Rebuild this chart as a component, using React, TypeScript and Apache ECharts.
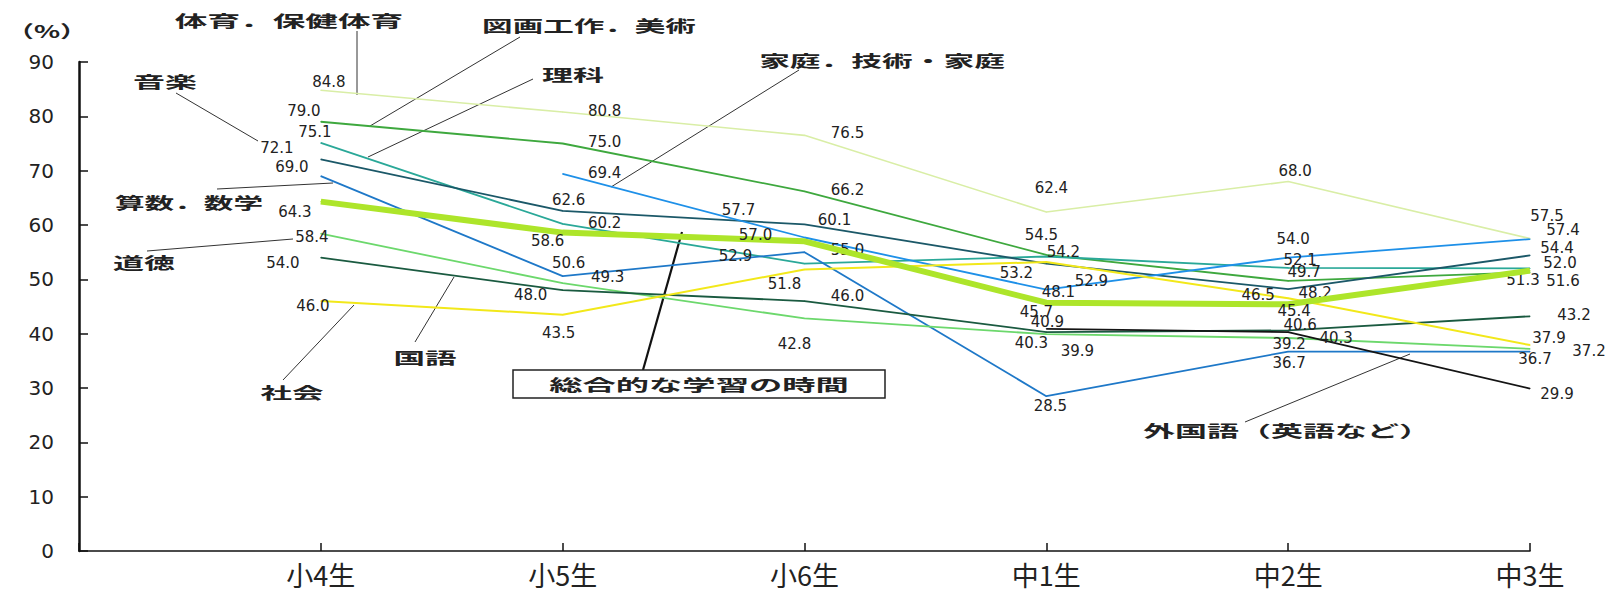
import React, { useEffect, useRef } from "react";
import * as echarts from "echarts";

const categories = ["小4生", "小5生", "小6生", "中1生", "中2生", "中3生"];

const seriesNames = [
  "体育，保健体育",
  "図画工作，美術",
  "理科",
  "音楽",
  "算数，数学",
  "家庭，技術・家庭",
  "道徳",
  "国語",
  "社会",
  "外国語（英語など）",
  "総合的な学習の時間",
];

const taiiku = [84.8, 80.8, 76.5, 62.4, 68.0, 57.5];
const zuga = [79.0, 75.0, 66.2, 54.5, 49.7, 51.3];
const rika = [75.1, 60.2, 52.9, 54.2, 52.1, 52.0];
const ongaku = [72.1, 62.6, 60.1, 52.9, 48.2, 54.4];
const sansu = [69.0, 50.6, 55.0, 28.5, 36.7, 36.7];
const katei = [null, 69.4, 57.7, 48.1, 54.0, 57.4];
const dotoku = [58.4, 49.3, 42.8, 39.9, 39.2, 37.2];
const kokugo = [54.0, 48.0, 46.0, 40.3, 40.6, 43.2];
const shakai = [46.0, 43.5, 51.8, 53.2, 46.5, 37.9];
const gaikokugo = [null, null, null, 40.9, 40.3, 29.9];
const sogo = [64.3, 58.6, 57.0, 45.7, 45.4, 51.6];

const seriesValues = [taiiku, zuga, rika, ongaku, sansu, katei, dotoku, kokugo, shakai, gaikokugo, sogo];

const yTicks = [0, 10, 20, 30, 40, 50, 60, 70, 80, 90];

// label offsets (pixels, relative to each point), kept apart from the values
const labelOffsets = [
  [[8, -8], [42, -1], [43, -2], [5, -24], [7, -11], [17, -23]],
  [[-17, -11], [42, -2], [43, -1], [-5, -20], [16, -9], [-7, 8]],
  [[-6, -11], [42, -1], [-69, -8], [17, -5], [12, -8], [30, -5]],
  [[-44, -11], [6, -11], [30, -4], [45, 17], [27, 4], [27, -7]],
  [[-29, -9], [6, -13], [43, -2], [4, 10], [1, 11], [5, 7]],
  [null, [42, -1], [-66, -27], [12, 2], [5, -19], [33, -9]],
  [[-9, 3], [45, -6], [-10, 26], [31, 17], [1, 6], [59, 2]],
  [[-38, 5], [-32, 5], [43, -5], [-15, 11], [12, -5], [44, -1]],
  [[-8, 5], [-4, 18], [-20, 14], [-30, 11], [-30, -3], [19, -7]],
  [null, null, null, [1, -7], [48, 6], [27, 5]],
  [[-26, 10], [-15, 8], [-49, -6], [-10, 9], [6, 7], [33, 10]],
];

const seriesColors = [
  "#d9eea6",
  "#3ea83e",
  "#2aa898",
  "#1b5868",
  "#1e78c8",
  "#1e90e8",
  "#6cd86c",
  "#1a5a40",
  "#f2e81a",
  "#141414",
  "#ade52a",
];
const seriesWidths = [1.6, 1.8, 1.8, 1.8, 1.8, 1.8, 1.8, 1.8, 2, 1.8, 6];

// annotation texts: [text, x, y, scaleX]
const annotations: [string, number, number, number][] = [
  ["体育．保健体育", 289, 20, 2.04],
  ["図画工作．美術", 589, 25, 1.91],
  ["音楽", 165, 81, 2.0],
  ["理科", 573, 74, 1.94],
  ["家庭．技術・家庭", 882, 60, 1.92],
  ["算数．数学", 189, 202, 1.85],
  ["道徳", 144, 262, 1.94],
  ["国語", 425, 357, 1.97],
  ["社会", 292, 392, 1.97],
  ["外国語（英語など）", 1287, 430, 2.0],
];

// leader lines: [x1, y1, x2, y2]
const leaders: [number, number, number, number][] = [
  [357, 31, 357, 95],
  [520, 37, 370, 126],
  [176, 93, 258, 141],
  [533, 79, 368, 157],
  [799, 70, 611, 187],
  [217, 189, 333, 183],
  [147, 251, 293, 239],
  [415, 342, 454, 277],
  [283, 380, 354, 305],
  [1245, 422, 1410, 354],
];

export default function App() {
  const ref = useRef<HTMLDivElement>(null);

  useEffect(() => {
    if (!ref.current) return;
    const chart = echarts.init(ref.current, null, { renderer: "svg" });

    const series = seriesNames.map((name, i) => ({
      type: "line",
      name,
      z: i === seriesNames.length - 1 ? 3 : 2,
      symbol: "circle",
      symbolSize: 1,
      silent: true,
      emphasis: { disabled: true },
      lineStyle: { color: seriesColors[i], width: seriesWidths[i] },
      itemStyle: { color: seriesColors[i] },
      label: {
        show: true,
        position: "inside",
        fontFamily: "DejaVu Sans",
        fontSize: 15,
        color: "#222",
        formatter: (p: any) => Number(p.value[1]).toFixed(1),
      },
      data: seriesValues[i]
        .map((v, j) =>
          v == null
            ? null
            : { value: [j, v], label: { offset: labelOffsets[i][j] || [0, 0] } }
        )
        .filter((d) => d !== null),
    }));

    const graphic: any[] = [];
    graphic.push({
      type: "text",
      x: 47,
      y: 31,
      scaleX: 1.6,
      silent: true,
      style: {
        text: "（%）",
        fill: "#222",
        font: 'bold 17px "Noto Sans CJK JP"',
        textAlign: "center",
        textVerticalAlign: "middle",
      },
    });
    annotations.forEach(([text, x, y, sx]) => {
      graphic.push({
        type: "text",
        x,
        y,
        scaleX: sx,
        silent: true,
        style: {
          text,
          fill: "#222",
          font: 'bold 16px "Noto Sans CJK JP"',
          textAlign: "center",
          textVerticalAlign: "middle",
        },
      });
    });
    leaders.forEach(([x1, y1, x2, y2]) => {
      graphic.push({
        type: "line",
        silent: true,
        shape: { x1, y1, x2, y2 },
        style: { stroke: "#333", lineWidth: 1 },
      });
    });
    graphic.push({
      type: "line",
      silent: true,
      shape: { x1: 643, y1: 370, x2: 682, y2: 232 },
      style: { stroke: "#111", lineWidth: 2.2 },
    });
    graphic.push({
      type: "rect",
      silent: true,
      shape: { x: 513, y: 370, width: 372, height: 28 },
      style: { fill: "#fff", stroke: "#222", lineWidth: 1.5 },
    });
    graphic.push({
      type: "text",
      x: 699,
      y: 384,
      scaleX: 2.08,
      silent: true,
      style: {
        text: "総合的な学習の時間",
        fill: "#222",
        font: 'bold 16px "Noto Sans CJK JP"',
        textAlign: "center",
        textVerticalAlign: "middle",
      },
    });

    chart.setOption({
      animation: false,
      backgroundColor: "#ffffff",
      grid: { left: 79, right: 79, top: 62, bottom: 48 },
      xAxis: {
        type: "value",
        min: -1,
        max: 5,
        interval: 1,
        splitLine: { show: false },
        axisLine: { show: true, onZero: false, lineStyle: { color: "#111", width: 1.6 } },
        axisTick: { show: true, inside: true, length: 8, lineStyle: { color: "#111", width: 1.5 } },
        axisLabel: {
          show: true,
          margin: 10,
          fontSize: 27,
          fontFamily: "Noto Sans CJK JP",
          color: "#222",
          showMinLabel: true,
          showMaxLabel: true,
          formatter: (v: number) => (v >= 0 && v < categories.length ? categories[v] : ""),
        },
      },
      yAxis: {
        type: "value",
        min: yTicks[0],
        max: yTicks[yTicks.length - 1],
        interval: 10,
        splitLine: { show: false },
        axisLine: { show: true, onZero: false, lineStyle: { color: "#111", width: 2.5 } },
        axisTick: { show: true, inside: true, length: 9, lineStyle: { color: "#111", width: 1.5 } },
        axisLabel: {
          margin: 25,
          fontSize: 20,
          fontFamily: "DejaVu Sans",
          color: "#222",
        },
      },
      series,
      graphic,
    });

    return () => chart.dispose();
  }, []);

  return (
    <div
      ref={ref}
      style={{ position: "fixed", left: 0, top: 0, width: 1609, height: 599, background: "#fff" }}
    />
  );
}
